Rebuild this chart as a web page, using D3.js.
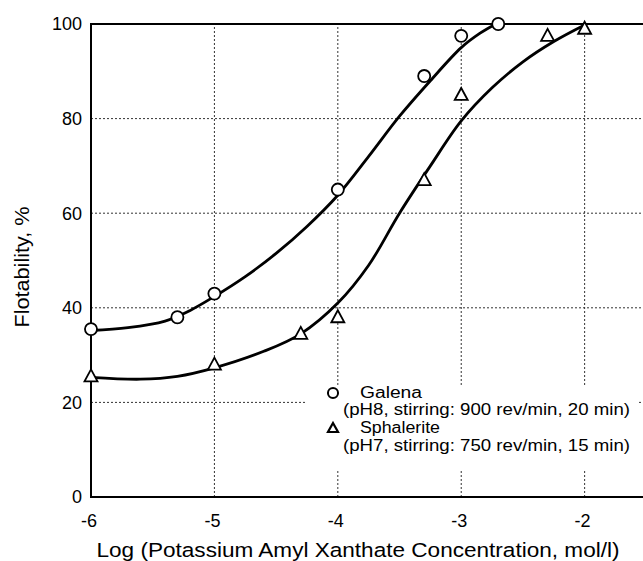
<!DOCTYPE html>
<html>
<head>
<meta charset="utf-8">
<script src="https://cdn.jsdelivr.net/npm/d3@7"></script>
<style>
  html, body { margin: 0; padding: 0; background: #fff; }
  svg { display: block; font-family: "Liberation Sans", Arial, sans-serif; }
</style>
</head>
<body>
<svg id="chart" width="643" height="561"></svg>
<script>
// 数据
// ====
const galenaX = [-6, -5.3, -5, -4, -3.3, -3, -2.7]
const galenaY = [35.5, 38, 43, 65, 89, 97.5, 100]
const sphaleriteX = [-6, -5, -4.3, -4, -3.3, -3, -2.3, -2]
const sphaleriteY = [25.5, 28, 34.5, 38, 67, 85, 97.5, 99]

// 拟合曲线
const galenaFitX = [-6, -5.7, -5.4, -5.2, -5, -4.75, -4.5, -4.25, -4, -3.75, -3.5, -3.25, -3, -2.85, -2.72]
const galenaFitY = [35.2, 35.8, 37.2, 39.4, 42.4, 46.6, 51.5, 57.2, 63.8, 72, 80.5, 88, 95, 98, 100]
const sphaleriteFitX = [-6, -5.6, -5.3, -5, -4.6, -4.3, -4, -3.75, -3.5, -3.25, -3, -2.75, -2.5, -2.25, -2]
const sphaleriteFitY = [25.3, 24.9, 25.5, 27.3, 30.8, 34.5, 41, 49, 60, 70, 79.5, 86.5, 92, 96.3, 99.8]

const xTicks = [-6, -5, -4, -3, -2]
const yTicks = [0, 20, 40, 60, 80, 100]
const xGrid = [-5, -4, -3, -2]
const yGrid = [20, 40, 60, 80]

const legendLabels = [
  ['Galena', '(pH8, stirring: 900 rev/min, 20 min)'],
  ['Sphalerite', '(pH7, stirring: 750 rev/min, 15 min)']
]

const svg = d3.select('#chart')

const x = d3.scaleLinear().domain([-6, -1.45]).range([91, 652.5])
const y = d3.scaleLinear().domain([0, 100]).range([497, 24])

/**
 * 网格线
 */
function drawGrid(selection) {
  let g = selection.append('g').classed('grid', true)
    .attr('stroke', '#333')
    .attr('stroke-width', 1)
    .attr('stroke-dasharray', '2,2')

  g.selectAll('line.gx').data(xGrid).enter()
    .append('line')
    .classed('gx', true)
    .attr('x1', d => x(d)).attr('x2', d => x(d))
    .attr('y1', y(0)).attr('y2', y(100))

  g.selectAll('line.gy').data(yGrid).enter()
    .append('line')
    .classed('gy', true)
    .attr('x1', x(-6)).attr('x2', 643)
    .attr('y1', d => y(d)).attr('y2', d => y(d))
}

/**
 * 坐标轴
 */
function drawAxes(selection) {
  let g = selection.append('g')
    .attr('stroke', '#000')
    .attr('stroke-width', 2)
    .attr('fill', 'none')

  // 左边、上边、下边
  g.append('path')
    .attr('d', `M${x(-1.45)} ${y(100)} H${x(-6)} V${y(0)} H${x(-1.45)}`)

  let fontSize = 18

  selection.append('g').selectAll('text').data(yTicks).enter()
    .append('text')
    .attr('x', 82)
    .attr('y', d => y(d))
    .attr('dy', '.36em')
    .attr('text-anchor', 'end')
    .attr('font-size', fontSize)
    .text(d => d)

  selection.append('g').selectAll('text').data(xTicks).enter()
    .append('text')
    .attr('x', d => x(d) - 2)
    .attr('y', 527)
    .attr('text-anchor', 'middle')
    .attr('font-size', fontSize)
    .text(d => d)

  // 轴标题
  selection.append('text')
    .attr('x', 358)
    .attr('y', 557)
    .attr('text-anchor', 'middle')
    .attr('font-size', 20.5)
    .attr('textLength', 523)
    .attr('lengthAdjust', 'spacingAndGlyphs')
    .text('Log (Potassium Amyl Xanthate Concentration, mol/l)')

  selection.append('text')
    .attr('transform', 'translate(29,267) rotate(-90)')
    .attr('text-anchor', 'middle')
    .attr('font-size', 19.5)
    .attr('textLength', 121)
    .attr('lengthAdjust', 'spacingAndGlyphs')
    .text('Flotability, %')
}

/**
 * 曲线与数据点
 */
function drawSeries(selection, opt) {
  let line = d3.line()
    .x(d => x(d[0]))
    .y(d => y(d[1]))
    .curve(d3.curveCatmullRom.alpha(0.5))

  selection.append('path')
    .datum(d3.zip(opt.fitX, opt.fitY))
    .attr('d', line)
    .attr('fill', 'none')
    .attr('stroke', '#000')
    .attr('stroke-width', 2.8)

  let pts = d3.zip(opt.xs, opt.ys)
  let g = selection.append('g')
    .attr('fill', '#fff')
    .attr('stroke', '#000')
    .attr('stroke-width', 1.8)

  g.selectAll('path').data(pts).enter()
    .append('path')
    .attr('transform', d => `translate(${x(d[0])},${y(d[1])})`)
    .attr('d', opt.symbol)
}

const circleSym = d3.symbol().type(d3.symbolCircle).size(115)()
const triSym = 'M0,-7 L6.5,5 L-6.5,5 Z'

/**
 * 图例
 */
function drawLegend(selection) {
  // 图例背景遮住网格线
  selection.append('rect')
    .attr('x', 305).attr('y', 385)
    .attr('width', 333).attr('height', 84)
    .attr('fill', '#fff')

  let g = selection.append('g').attr('font-size', 16)

  g.append('path')
    .attr('transform', 'translate(333,393)')
    .attr('d', d3.symbol().type(d3.symbolCircle).size(80)())
    .attr('fill', '#fff').attr('stroke', '#000').attr('stroke-width', 2)

  g.append('path')
    .attr('transform', 'translate(333,428)')
    .attr('d', 'M0,-5 L5,4 L-5,4 Z')
    .attr('fill', '#fff').attr('stroke', '#000').attr('stroke-width', 2.2)

  let rows = [
    [360, 398, legendLabels[0][0], 62],
    [343, 415, legendLabels[0][1], 287],
    [360, 433, legendLabels[1][0], 80],
    [343, 451, legendLabels[1][1], 287]
  ]
  g.selectAll('text').data(rows).enter()
    .append('text')
    .attr('x', d => d[0])
    .attr('y', d => d[1])
    .attr('textLength', d => d[3])
    .attr('lengthAdjust', 'spacingAndGlyphs')
    .text(d => d[2])
}

svg.call(drawGrid)
svg.call(drawLegend)
svg.call(drawAxes)
svg.call(drawSeries, { fitX: galenaFitX, fitY: galenaFitY, xs: galenaX, ys: galenaY, symbol: circleSym })
svg.call(drawSeries, { fitX: sphaleriteFitX, fitY: sphaleriteFitY, xs: sphaleriteX, ys: sphaleriteY, symbol: triSym })
</script>
</body>
</html>
